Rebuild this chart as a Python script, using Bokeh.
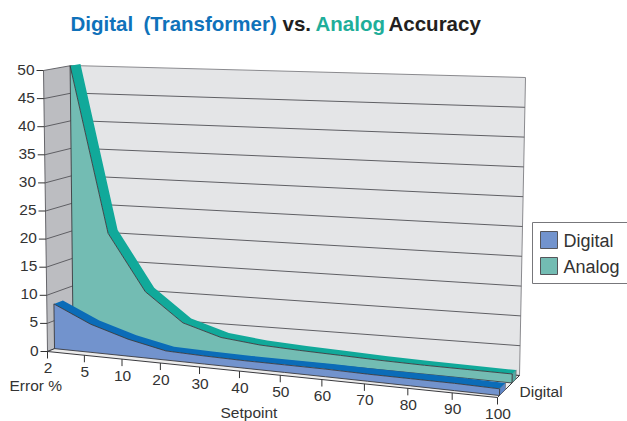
from bokeh.plotting import figure
from bokeh.models import Range1d
from bokeh.embed import file_html
from bokeh.resources import INLINE
from bokeh.core.properties import value

setpoints = ["2", "5", "10", "20", "30", "40", "50", "60", "70", "80", "90", "100"]
digital = [8.0, 5.0, 3.0, 1.6, 1.4, 1.3, 1.3, 1.3, 1.2, 1.2, 1.2, 1.1]
analog = [50.0, 20.0, 10.0, 5.0, 3.0, 2.3, 2.0, 1.8, 1.6, 1.5, 1.5, 1.5]
y_ticks = [0, 5, 10, 15, 20, 25, 30, 35, 40, 45, 50]
title_parts = ["Digital", "(Transformer)", "vs.", "Analog", "Accuracy"]
legend_names = ["Digital", "Analog"]

W, H = 627, 421
FONT = value("Liberation Sans")
INK = "#333333"
C = {
    "wall": "#e4e5e7", "side": "#bcbdc1", "floor": "#ececec", "edge": "#3a3a3e",
    "dig": "#7293cd", "dig_top": "#0b6cb8", "dig_end": "#5f86c6",
    "ana": "#73bcb3", "ana_top": "#11a99a", "ana_end": "#55aaa2",
}
WARP = 1.12
CORNER = {
    (0, 0, 0): (47, 351), (1, 0, 0): (497, 397), (0, 1, 0): (74, 340), (1, 1, 0): (519, 375),
    (0, 0, 1): (43, 70), (1, 0, 1): (503, 92), (0, 1, 1): (71, 65), (1, 1, 1): (525, 77),
}
PLANES = {"dig_f": (0.26, 0.09), "dig_b": (0.59, 0.36), "ana_f": (0.95, 0.66), "ana_b": (1.32, 0.84)}


def warp(t):
    return t / (t + WARP * (1 - t))


def proj(s, d, v):
    h = v / 50.0
    x = y = 0.0
    for (a, b, c), (px, py) in CORNER.items():
        k = (s if a else 1 - s) * (d if b else 1 - d) * (h if c else 1 - h)
        x += k * px
        y += k * py
    return x, y


def on_plane(i, plane, v):
    s = warp(i / (len(setpoints) - 1))
    dl, dr = PLANES[plane]
    return proj(s, dl + (dr - dl) * s, v)


p = figure(width=W, height=H, x_range=Range1d(0, W), y_range=Range1d(H, 0),
           toolbar_location=None, output_backend="svg", min_border=0,
           background_fill_color="white", border_fill_color="white", outline_line_color=None)
p.axis.visible = False
p.grid.visible = False
p.styles = {"position": "absolute", "left": "0px", "top": "0px"}


def poly(pts, fill, line=None, w=1.0):
    p.patch([q[0] for q in pts], [q[1] for q in pts], fill_color=fill,
            line_color=line, line_width=w, line_join="round")


def seg(a, b, color=C["edge"], w=1.0):
    p.line([a[0], b[0]], [a[1], b[1]], line_color=color, line_width=w)


# walls and floor
poly([proj(0, 1, 0), proj(1, 1, 0), proj(1, 1, 50), proj(0, 1, 50)], C["wall"], "#8a8a8e")
poly([proj(0, 0, 0), proj(0, 1, 0), proj(0, 1, 50), proj(0, 0, 50)], C["side"], "#66666b")
poly([proj(0, 0, 0), proj(1, 0, 0), proj(1, 1, 0), proj(0, 1, 0)], C["floor"], C["edge"])
for v in y_ticks:
    if v not in (0, 50):
        seg(proj(0, 1, v), proj(1, 1, v), "#5f5f64")
        seg(proj(0, 0, v), proj(0, 1, v), "#5f5f64")
    f = proj(0, 0, v)
    seg((f[0] - 7, f[1]), f, INK)
p.text([proj(0, 0, v)[0] - 9 for v in y_ticks], [proj(0, 0, v)[1] - 1 for v in y_ticks],
       text=[str(v) for v in y_ticks], text_font=FONT, text_font_size="15.5px", text_color=INK,
       text_align="right", text_baseline="middle")

# x ticks
n = len(setpoints)
for i in range(n):
    f = proj(warp(i / (n - 1)), 0, 0)
    seg(f, (f[0], f[1] + 7), INK)
p.text([proj(warp(i / (n - 1)), 0, 0)[0] + 0.5 for i in range(n)],
       [proj(warp(i / (n - 1)), 0, 0)[1] + 16.5 for i in range(n)],
       text=setpoints, text_font=FONT, text_font_size="15.5px", text_color=INK,
       text_align="center", text_baseline="middle")


def band(vals, front, back, face, top, end):
    idx = list(range(n))
    f = [on_plane(i, front, vals[i]) for i in idx]
    b = [on_plane(i, back, vals[i]) for i in idx]
    base = [on_plane(i, front, 0) for i in idx]
    poly([on_plane(n - 1, front, vals[-1]), on_plane(n - 1, back, vals[-1]),
          on_plane(n - 1, back, 0), on_plane(n - 1, front, 0)], end, "#66666b", 0.6)
    poly(f + b[::-1], top, None)
    poly(f + base[::-1], face, C["edge"], 0.9)


band(analog, "ana_f", "ana_b", C["ana"], C["ana_top"], C["ana_end"])
band(digital, "dig_f", "dig_b", C["dig"], C["dig_top"], C["dig_end"])

# title
tx = [70, 143, 282, 315, 388]
tc = ["#0f72ba", "#0f72ba", "#231f20", "#1fae9a", "#231f20"]
p.text(tx, [23] * 5, text=title_parts, text_color=tc, text_font=value("Liberation Sans"),
       text_font_style="bold", text_font_size="20.5px", text_baseline="middle", text_align="left")

# axis names
p.text([9, 220, 519], [385, 412, 391], text=["Error %", "Setpoint", "Digital"], text_font=FONT,
       text_font_size="15.5px", text_color=INK, text_baseline="middle", text_align="left")

# legend
p.patch([532, 640, 640, 532], [222, 222, 283, 283], fill_color="white", line_color="#77777b", line_width=1)
for k, (nm, col) in enumerate(zip(legend_names, [C["dig"], C["ana"]])):
    y0 = 231 + k * 26
    p.patch([540, 557, 557, 540], [y0, y0, y0 + 17, y0 + 17], fill_color=col, line_color="#55555a", line_width=1)
    p.text([563], [y0 + 9], text=[nm], text_font=FONT, text_font_size="18px", text_color=INK,
           text_baseline="middle", text_align="left")

open("out.html", "w").write(file_html(p, INLINE))
